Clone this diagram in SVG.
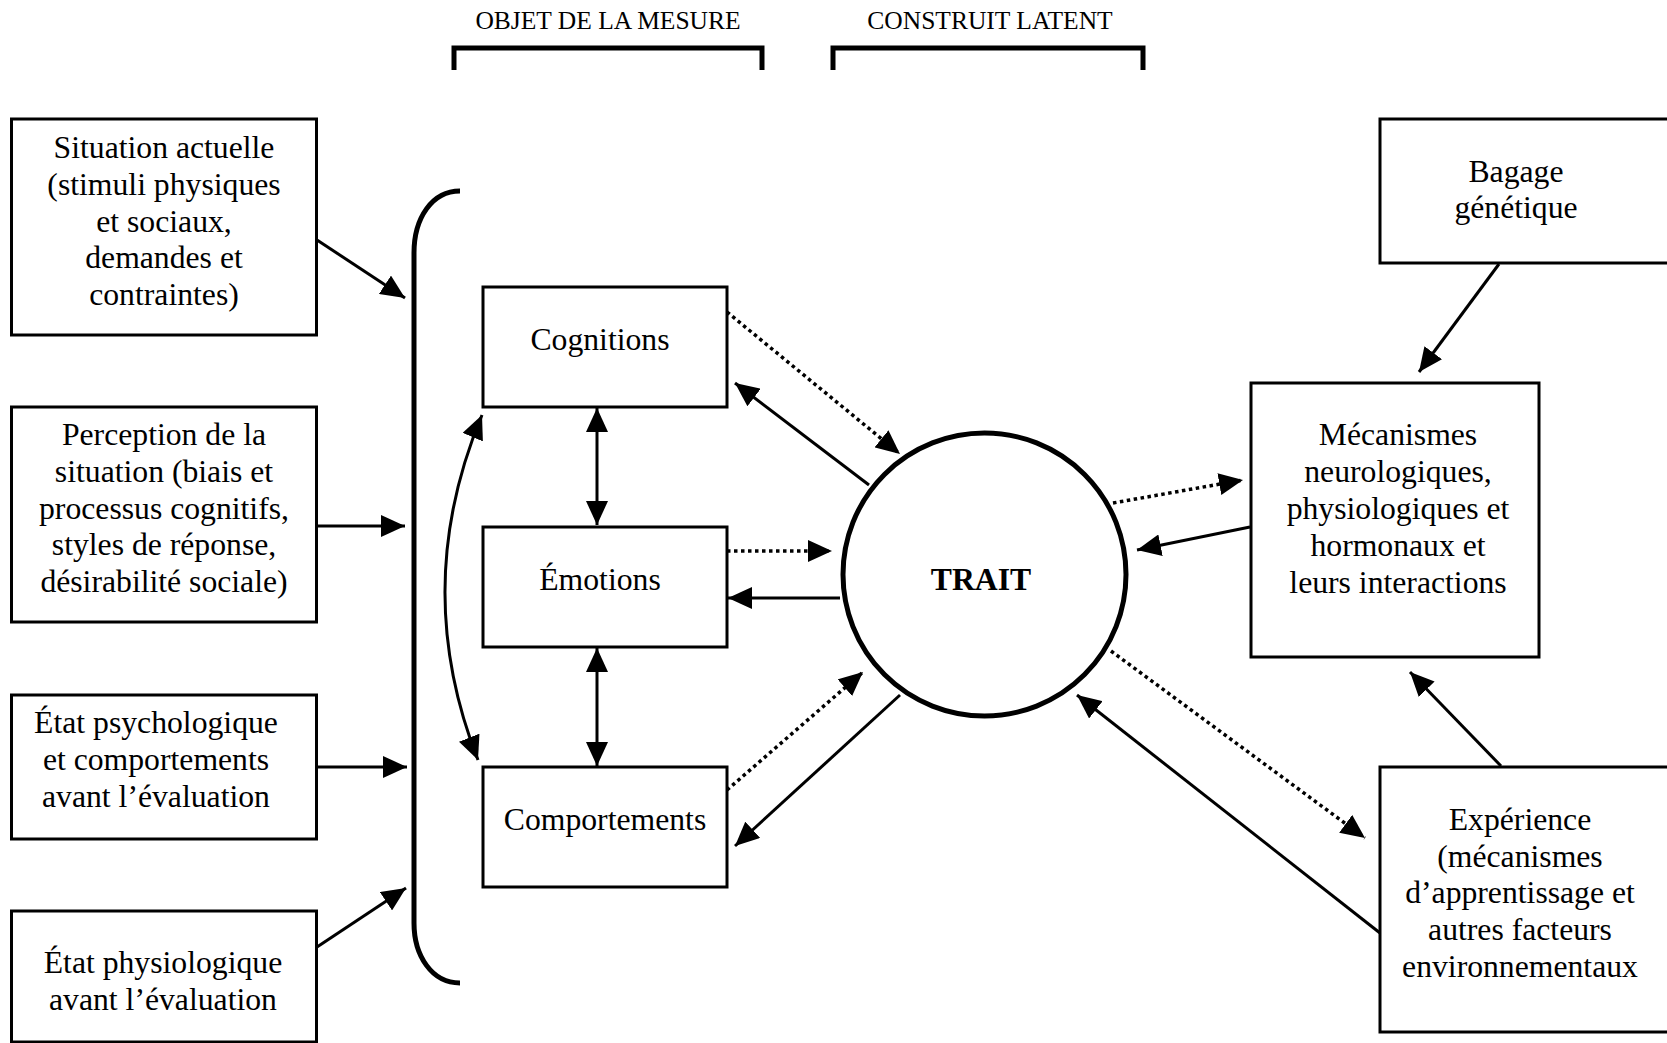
<svg xmlns="http://www.w3.org/2000/svg" width="1667" height="1043" viewBox="0 0 1667 1043">
<style>
  .box{fill:#fff;stroke:#000;stroke-width:3}
  .t{font-family:"Liberation Serif","Times New Roman",serif;font-size:31.7px;fill:#000;text-anchor:middle}
  .h{font-family:"Liberation Serif","Times New Roman",serif;font-size:25.5px;fill:#000;text-anchor:middle}
  .c{fill:none;stroke:#000;stroke-width:3}
  .d{fill:none;stroke:#000;stroke-width:3.5;stroke-dasharray:3.5 3.5}
  .br{fill:none;stroke:#000;stroke-width:5}
</style>
<defs>
  <marker id="ah" viewBox="0 0 24 22" refX="24" refY="11" markerWidth="24" markerHeight="22" markerUnits="userSpaceOnUse" orient="auto-start-reverse">
    <path d="M0,0 L24,11 L0,22 Z" fill="#000"/>
  </marker>
</defs>
<rect width="1667" height="1043" fill="#fff"/>

<g id="header">
  <text class="h" x="608" y="29">OBJET DE LA MESURE</text>
  <text class="h" x="990" y="29">CONSTRUIT LATENT</text>
  <path class="br" d="M454,70 V48 H762 V70"/>
  <path class="br" d="M833,70 V48 H1143 V70"/>
</g>

<g id="situation">
  <rect class="box" x="11.5" y="119" width="305" height="216"/>
  <text class="t" x="164" y="158">Situation actuelle</text>
  <text class="t" x="164" y="195">(stimuli physiques</text>
  <text class="t" x="164" y="232">et sociaux,</text>
  <text class="t" x="164" y="268">demandes et</text>
  <text class="t" x="164" y="305">contraintes)</text>
</g>
<g id="perception">
  <rect class="box" x="11.5" y="407" width="305" height="215"/>
  <text class="t" x="164" y="445">Perception de la</text>
  <text class="t" x="164" y="482">situation (biais et</text>
  <text class="t" x="164" y="518.5">processus cognitifs,</text>
  <text class="t" x="164" y="555">styles de réponse,</text>
  <text class="t" x="164" y="592">désirabilité sociale)</text>
</g>
<g id="etat-psychologique">
  <rect class="box" x="11.5" y="695" width="305" height="144"/>
  <text class="t" x="156" y="733">État psychologique</text>
  <text class="t" x="156" y="770">et comportements</text>
  <text class="t" x="156" y="807">avant l’évaluation</text>
</g>
<g id="etat-physiologique">
  <rect class="box" x="11.5" y="911" width="305" height="131"/>
  <text class="t" x="163" y="973">État physiologique</text>
  <text class="t" x="163" y="1010">avant l’évaluation</text>
</g>

<g id="bracket">
  <path class="br" d="M460,191 C432,191 414,218 414,253 V923 C414,956 432,983 460,983"/>
</g>

<g id="cognitions">
  <rect class="box" x="483" y="287" width="244" height="120"/>
  <text class="t" x="600" y="350">Cognitions</text>
</g>
<g id="emotions">
  <rect class="box" x="483" y="527" width="244" height="120"/>
  <text class="t" x="600" y="590">Émotions</text>
</g>
<g id="comportements">
  <rect class="box" x="483" y="767" width="244" height="120"/>
  <text class="t" x="605" y="830">Comportements</text>
</g>

<g id="trait">
  <circle cx="984.5" cy="574.5" r="141.5" fill="#fff" stroke="#000" stroke-width="5"/>
  <text class="t" x="981" y="590" font-weight="bold">TRAIT</text>
</g>

<g id="bagage">
  <rect class="box" x="1380" y="119" width="300" height="144"/>
  <text class="t" x="1516" y="182">Bagage</text>
  <text class="t" x="1516" y="218">génétique</text>
</g>
<g id="mecanismes">
  <rect class="box" x="1251" y="383" width="288" height="274"/>
  <text class="t" x="1398" y="445">Mécanismes</text>
  <text class="t" x="1398" y="482">neurologiques,</text>
  <text class="t" x="1398" y="519">physiologiques et</text>
  <text class="t" x="1398" y="556">hormonaux et</text>
  <text class="t" x="1398" y="593">leurs interactions</text>
</g>
<g id="experience">
  <rect class="box" x="1380" y="767" width="300" height="265"/>
  <text class="t" x="1520" y="830">Expérience</text>
  <text class="t" x="1520" y="867">(mécanismes</text>
  <text class="t" x="1520" y="903">d’apprentissage et</text>
  <text class="t" x="1520" y="940">autres facteurs</text>
  <text class="t" x="1520" y="977">environnementaux</text>
</g>

<g id="connectors">
  <line class="c" x1="317" y1="240" x2="405" y2="298" marker-end="url(#ah)"/>
  <line class="c" x1="317" y1="526" x2="405" y2="526" marker-end="url(#ah)"/>
  <line class="c" x1="317" y1="767" x2="407" y2="767" marker-end="url(#ah)"/>
  <line class="c" x1="317" y1="947" x2="406" y2="888" marker-end="url(#ah)"/>
  <path class="c" d="M482,415 Q410,587 478,760" marker-start="url(#ah)" marker-end="url(#ah)"/>
  <line class="c" x1="597" y1="408" x2="597" y2="525" marker-start="url(#ah)" marker-end="url(#ah)"/>
  <line class="c" x1="597" y1="648" x2="597" y2="766" marker-start="url(#ah)" marker-end="url(#ah)"/>
  <line class="d" x1="727" y1="312" x2="900" y2="454" marker-end="url(#ah)"/>
  <line class="c" x1="869" y1="485" x2="735" y2="383" marker-end="url(#ah)"/>
  <line class="d" x1="727" y1="551" x2="832" y2="551" marker-end="url(#ah)"/>
  <line class="c" x1="840" y1="598" x2="728" y2="598" marker-end="url(#ah)"/>
  <line class="d" x1="727" y1="790" x2="863" y2="672" marker-end="url(#ah)"/>
  <line class="c" x1="900" y1="695" x2="735" y2="846" marker-end="url(#ah)"/>
  <line class="c" x1="1499" y1="264" x2="1419" y2="372" marker-end="url(#ah)"/>
  <line class="c" x1="1501" y1="766" x2="1410" y2="672" marker-end="url(#ah)"/>
  <line class="d" x1="1113" y1="503" x2="1243" y2="480" marker-end="url(#ah)"/>
  <line class="c" x1="1250" y1="527" x2="1137" y2="550" marker-end="url(#ah)"/>
  <line class="d" x1="1111" y1="651" x2="1365" y2="838" marker-end="url(#ah)"/>
  <line class="c" x1="1380" y1="933" x2="1077" y2="695" marker-end="url(#ah)"/>
</g>
</svg>
